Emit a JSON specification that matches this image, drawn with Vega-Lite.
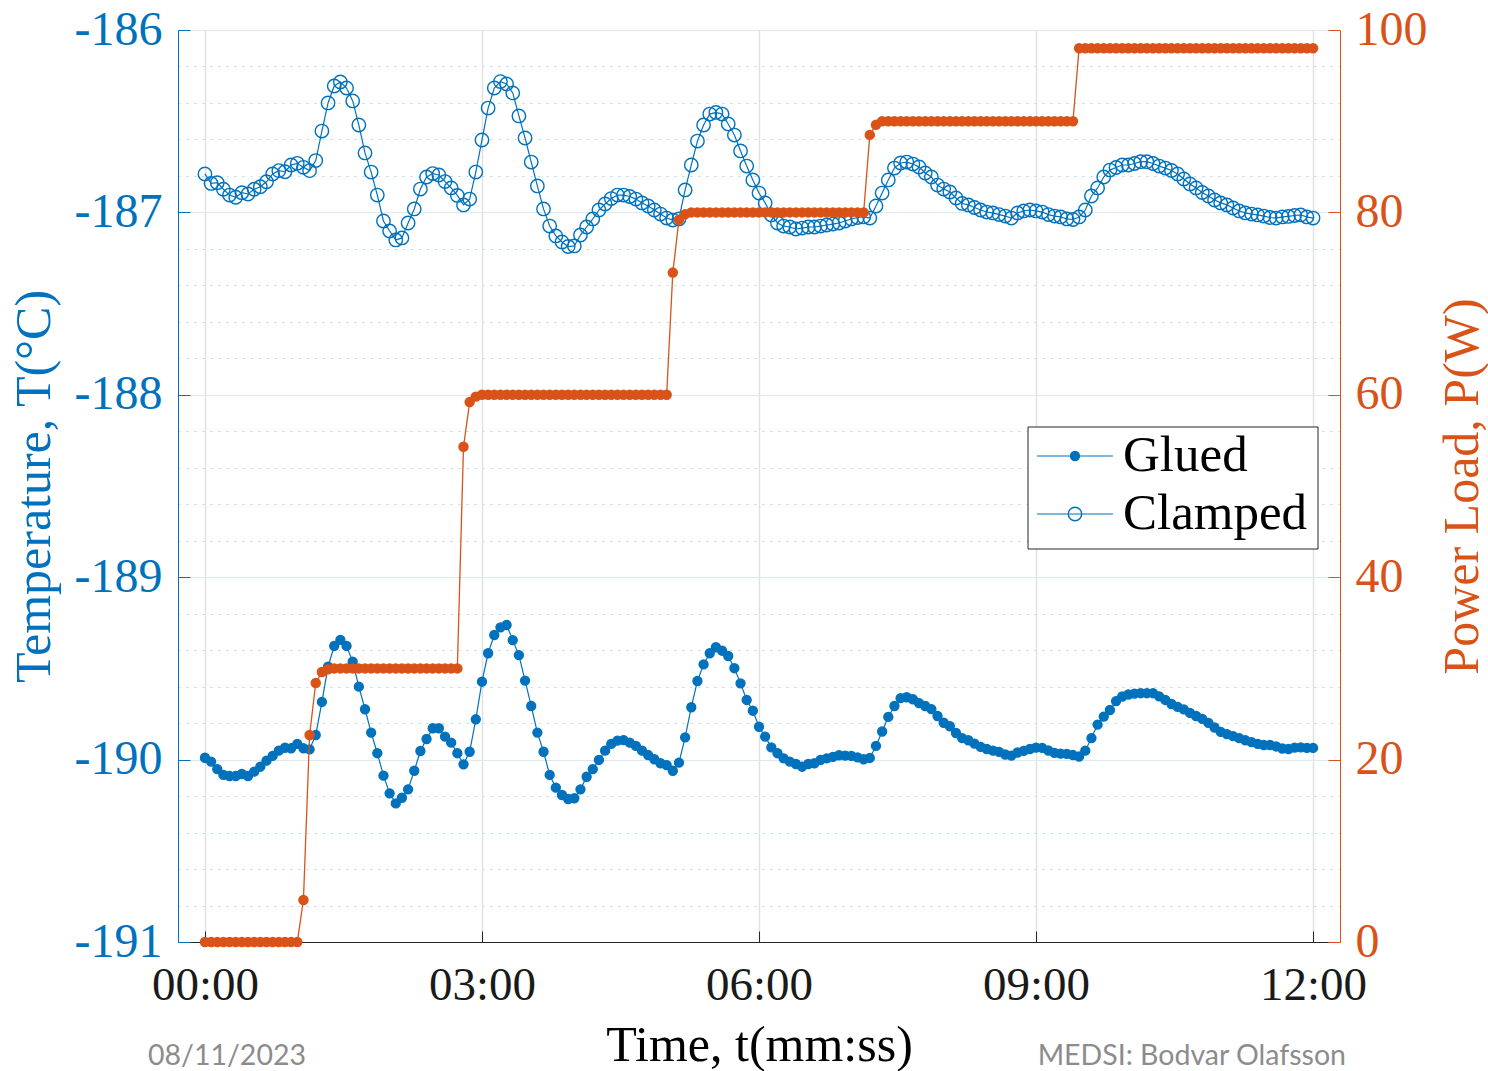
{
"$schema":"https://vega.github.io/schema/vega-lite/v6.json",
"width":1162,"height":912,
"autosize":{"type":"none"},
"padding":{"left":178,"top":30,"right":148,"bottom":129},
"background":"white",
"config":{"view":{"stroke":null},"font":"Liberation Serif","locale":{"number":{"decimal":".","thousands":",","grouping":[3],"currency":["$",""],"minus":"-"}},"axis":{"labelFont":"Liberation Serif","titleFont":"Liberation Serif","labelFlush":false,"labelOverlap":false,"titleFontWeight":"normal"}},
"data":{"values":[
{"t":0,"Glued":-189.990,"Clamped":-186.789,"P":0},
{"t":4000,"Glued":-190.011,"Clamped":-186.841,"P":0},
{"t":8000,"Glued":-190.052,"Clamped":-186.837,"P":0},
{"t":12000,"Glued":-190.084,"Clamped":-186.873,"P":0},
{"t":16000,"Glued":-190.090,"Clamped":-186.905,"P":0},
{"t":20000,"Glued":-190.090,"Clamped":-186.917,"P":0},
{"t":24000,"Glued":-190.079,"Clamped":-186.892,"P":0},
{"t":28000,"Glued":-190.090,"Clamped":-186.899,"P":0},
{"t":32000,"Glued":-190.066,"Clamped":-186.873,"P":0},
{"t":36000,"Glued":-190.039,"Clamped":-186.859,"P":0},
{"t":40000,"Glued":-190.006,"Clamped":-186.832,"P":0},
{"t":44000,"Glued":-189.980,"Clamped":-186.789,"P":0},
{"t":48000,"Glued":-189.951,"Clamped":-186.771,"P":0},
{"t":52000,"Glued":-189.935,"Clamped":-186.777,"P":0},
{"t":56000,"Glued":-189.938,"Clamped":-186.740,"P":0},
{"t":60000,"Glued":-189.914,"Clamped":-186.731,"P":0},
{"t":64000,"Glued":-189.938,"Clamped":-186.753,"P":4.6},
{"t":68000,"Glued":-189.944,"Clamped":-186.771,"P":22.7},
{"t":72000,"Glued":-189.865,"Clamped":-186.716,"P":28.4},
{"t":76000,"Glued":-189.684,"Clamped":-186.554,"P":29.6},
{"t":80000,"Glued":-189.491,"Clamped":-186.400,"P":29.9},
{"t":84000,"Glued":-189.377,"Clamped":-186.307,"P":30},
{"t":88000,"Glued":-189.344,"Clamped":-186.285,"P":30},
{"t":92000,"Glued":-189.377,"Clamped":-186.318,"P":30},
{"t":96000,"Glued":-189.463,"Clamped":-186.389,"P":30},
{"t":100000,"Glued":-189.600,"Clamped":-186.521,"P":30},
{"t":104000,"Glued":-189.724,"Clamped":-186.674,"P":30},
{"t":108000,"Glued":-189.852,"Clamped":-186.779,"P":30},
{"t":112000,"Glued":-189.965,"Clamped":-186.905,"P":30},
{"t":116000,"Glued":-190.088,"Clamped":-187.047,"P":30},
{"t":120000,"Glued":-190.185,"Clamped":-187.102,"P":30},
{"t":124000,"Glued":-190.240,"Clamped":-187.151,"P":30},
{"t":128000,"Glued":-190.209,"Clamped":-187.140,"P":30},
{"t":132000,"Glued":-190.163,"Clamped":-187.058,"P":30},
{"t":136000,"Glued":-190.061,"Clamped":-186.981,"P":30},
{"t":140000,"Glued":-189.953,"Clamped":-186.872,"P":30},
{"t":144000,"Glued":-189.887,"Clamped":-186.806,"P":30},
{"t":148000,"Glued":-189.828,"Clamped":-186.787,"P":30},
{"t":152000,"Glued":-189.828,"Clamped":-186.795,"P":30},
{"t":156000,"Glued":-189.874,"Clamped":-186.831,"P":30},
{"t":160000,"Glued":-189.907,"Clamped":-186.866,"P":30},
{"t":164000,"Glued":-189.965,"Clamped":-186.907,"P":30},
{"t":168000,"Glued":-190.026,"Clamped":-186.959,"P":54.3},
{"t":172000,"Glued":-189.957,"Clamped":-186.927,"P":59.2},
{"t":176000,"Glued":-189.779,"Clamped":-186.779,"P":59.8},
{"t":180000,"Glued":-189.573,"Clamped":-186.603,"P":60},
{"t":184000,"Glued":-189.417,"Clamped":-186.428,"P":60},
{"t":188000,"Glued":-189.317,"Clamped":-186.318,"P":60},
{"t":192000,"Glued":-189.275,"Clamped":-186.283,"P":60},
{"t":196000,"Glued":-189.262,"Clamped":-186.296,"P":60},
{"t":200000,"Glued":-189.345,"Clamped":-186.345,"P":60},
{"t":204000,"Glued":-189.427,"Clamped":-186.471,"P":60},
{"t":208000,"Glued":-189.567,"Clamped":-186.592,"P":60},
{"t":212000,"Glued":-189.706,"Clamped":-186.724,"P":60},
{"t":216000,"Glued":-189.852,"Clamped":-186.855,"P":60},
{"t":220000,"Glued":-189.957,"Clamped":-186.981,"P":60},
{"t":224000,"Glued":-190.084,"Clamped":-187.075,"P":60},
{"t":228000,"Glued":-190.154,"Clamped":-187.129,"P":60},
{"t":232000,"Glued":-190.194,"Clamped":-187.162,"P":60},
{"t":236000,"Glued":-190.216,"Clamped":-187.187,"P":60},
{"t":240000,"Glued":-190.212,"Clamped":-187.184,"P":60},
{"t":244000,"Glued":-190.163,"Clamped":-187.124,"P":60},
{"t":248000,"Glued":-190.094,"Clamped":-187.080,"P":60},
{"t":252000,"Glued":-190.052,"Clamped":-187.036,"P":60},
{"t":256000,"Glued":-190.002,"Clamped":-186.987,"P":60},
{"t":260000,"Glued":-189.951,"Clamped":-186.954,"P":60},
{"t":264000,"Glued":-189.914,"Clamped":-186.924,"P":60},
{"t":268000,"Glued":-189.896,"Clamped":-186.905,"P":60},
{"t":272000,"Glued":-189.893,"Clamped":-186.905,"P":60},
{"t":276000,"Glued":-189.907,"Clamped":-186.913,"P":60},
{"t":280000,"Glued":-189.925,"Clamped":-186.927,"P":60},
{"t":284000,"Glued":-189.951,"Clamped":-186.948,"P":60},
{"t":288000,"Glued":-189.975,"Clamped":-186.965,"P":60},
{"t":292000,"Glued":-189.998,"Clamped":-186.987,"P":60},
{"t":296000,"Glued":-190.020,"Clamped":-187.009,"P":60},
{"t":300000,"Glued":-190.030,"Clamped":-187.031,"P":60},
{"t":304000,"Glued":-190.061,"Clamped":-187.042,"P":73.4},
{"t":308000,"Glued":-190.017,"Clamped":-187.036,"P":79.2},
{"t":312000,"Glued":-189.878,"Clamped":-186.877,"P":79.8},
{"t":316000,"Glued":-189.713,"Clamped":-186.740,"P":80},
{"t":320000,"Glued":-189.569,"Clamped":-186.609,"P":80},
{"t":324000,"Glued":-189.478,"Clamped":-186.521,"P":80},
{"t":328000,"Glued":-189.417,"Clamped":-186.461,"P":80},
{"t":332000,"Glued":-189.384,"Clamped":-186.452,"P":80},
{"t":336000,"Glued":-189.403,"Clamped":-186.461,"P":80},
{"t":340000,"Glued":-189.432,"Clamped":-186.515,"P":80},
{"t":344000,"Glued":-189.499,"Clamped":-186.576,"P":80},
{"t":348000,"Glued":-189.582,"Clamped":-186.663,"P":80},
{"t":352000,"Glued":-189.673,"Clamped":-186.746,"P":80},
{"t":356000,"Glued":-189.732,"Clamped":-186.822,"P":80},
{"t":360000,"Glued":-189.820,"Clamped":-186.894,"P":80},
{"t":364000,"Glued":-189.874,"Clamped":-186.948,"P":80},
{"t":368000,"Glued":-189.933,"Clamped":-187.014,"P":80},
{"t":372000,"Glued":-189.965,"Clamped":-187.058,"P":80},
{"t":376000,"Glued":-189.993,"Clamped":-187.075,"P":80},
{"t":380000,"Glued":-190.011,"Clamped":-187.080,"P":80},
{"t":384000,"Glued":-190.024,"Clamped":-187.091,"P":80},
{"t":388000,"Glued":-190.039,"Clamped":-187.086,"P":80},
{"t":392000,"Glued":-190.024,"Clamped":-187.080,"P":80},
{"t":396000,"Glued":-190.020,"Clamped":-187.080,"P":80},
{"t":400000,"Glued":-190.002,"Clamped":-187.075,"P":80},
{"t":404000,"Glued":-189.993,"Clamped":-187.069,"P":80},
{"t":408000,"Glued":-189.985,"Clamped":-187.064,"P":80},
{"t":412000,"Glued":-189.976,"Clamped":-187.058,"P":80},
{"t":416000,"Glued":-189.978,"Clamped":-187.047,"P":80},
{"t":420000,"Glued":-189.980,"Clamped":-187.036,"P":80},
{"t":424000,"Glued":-189.988,"Clamped":-187.028,"P":80},
{"t":428000,"Glued":-189.998,"Clamped":-187.025,"P":80},
{"t":432000,"Glued":-189.991,"Clamped":-187.031,"P":88.5},
{"t":436000,"Glued":-189.925,"Clamped":-186.965,"P":89.6},
{"t":440000,"Glued":-189.846,"Clamped":-186.894,"P":90},
{"t":444000,"Glued":-189.766,"Clamped":-186.822,"P":90},
{"t":448000,"Glued":-189.706,"Clamped":-186.757,"P":90},
{"t":452000,"Glued":-189.663,"Clamped":-186.729,"P":90},
{"t":456000,"Glued":-189.658,"Clamped":-186.724,"P":90},
{"t":460000,"Glued":-189.669,"Clamped":-186.735,"P":90},
{"t":464000,"Glued":-189.690,"Clamped":-186.751,"P":90},
{"t":468000,"Glued":-189.706,"Clamped":-186.784,"P":90},
{"t":472000,"Glued":-189.723,"Clamped":-186.806,"P":90},
{"t":476000,"Glued":-189.761,"Clamped":-186.850,"P":90},
{"t":480000,"Glued":-189.798,"Clamped":-186.872,"P":90},
{"t":484000,"Glued":-189.817,"Clamped":-186.888,"P":90},
{"t":488000,"Glued":-189.854,"Clamped":-186.921,"P":90},
{"t":492000,"Glued":-189.882,"Clamped":-186.951,"P":90},
{"t":496000,"Glued":-189.894,"Clamped":-186.959,"P":90},
{"t":500000,"Glued":-189.912,"Clamped":-186.973,"P":90},
{"t":504000,"Glued":-189.930,"Clamped":-186.987,"P":90},
{"t":508000,"Glued":-189.942,"Clamped":-186.998,"P":90},
{"t":512000,"Glued":-189.951,"Clamped":-187.003,"P":90},
{"t":516000,"Glued":-189.958,"Clamped":-187.012,"P":90},
{"t":520000,"Glued":-189.972,"Clamped":-187.020,"P":90},
{"t":524000,"Glued":-189.978,"Clamped":-187.031,"P":90},
{"t":528000,"Glued":-189.961,"Clamped":-187.003,"P":90},
{"t":532000,"Glued":-189.952,"Clamped":-186.992,"P":90},
{"t":536000,"Glued":-189.942,"Clamped":-186.987,"P":90},
{"t":540000,"Glued":-189.934,"Clamped":-186.992,"P":90},
{"t":544000,"Glued":-189.936,"Clamped":-186.998,"P":90},
{"t":548000,"Glued":-189.950,"Clamped":-187.012,"P":90},
{"t":552000,"Glued":-189.963,"Clamped":-187.020,"P":90},
{"t":556000,"Glued":-189.967,"Clamped":-187.025,"P":90},
{"t":560000,"Glued":-189.969,"Clamped":-187.036,"P":90},
{"t":564000,"Glued":-189.975,"Clamped":-187.039,"P":90},
{"t":568000,"Glued":-189.983,"Clamped":-187.025,"P":98},
{"t":572000,"Glued":-189.951,"Clamped":-186.987,"P":98},
{"t":576000,"Glued":-189.882,"Clamped":-186.910,"P":98},
{"t":580000,"Glued":-189.808,"Clamped":-186.866,"P":98},
{"t":584000,"Glued":-189.764,"Clamped":-186.806,"P":98},
{"t":588000,"Glued":-189.728,"Clamped":-186.768,"P":98},
{"t":592000,"Glued":-189.679,"Clamped":-186.754,"P":98},
{"t":596000,"Glued":-189.654,"Clamped":-186.740,"P":98},
{"t":600000,"Glued":-189.643,"Clamped":-186.740,"P":98},
{"t":604000,"Glued":-189.638,"Clamped":-186.732,"P":98},
{"t":608000,"Glued":-189.636,"Clamped":-186.722,"P":98},
{"t":612000,"Glued":-189.636,"Clamped":-186.722,"P":98},
{"t":616000,"Glued":-189.636,"Clamped":-186.732,"P":98},
{"t":620000,"Glued":-189.653,"Clamped":-186.746,"P":98},
{"t":624000,"Glued":-189.673,"Clamped":-186.757,"P":98},
{"t":628000,"Glued":-189.695,"Clamped":-186.770,"P":98},
{"t":632000,"Glued":-189.711,"Clamped":-186.789,"P":98},
{"t":636000,"Glued":-189.725,"Clamped":-186.817,"P":98},
{"t":640000,"Glued":-189.744,"Clamped":-186.844,"P":98},
{"t":644000,"Glued":-189.761,"Clamped":-186.866,"P":98},
{"t":648000,"Glued":-189.777,"Clamped":-186.891,"P":98},
{"t":652000,"Glued":-189.799,"Clamped":-186.910,"P":98},
{"t":656000,"Glued":-189.824,"Clamped":-186.932,"P":98},
{"t":660000,"Glued":-189.848,"Clamped":-186.948,"P":98},
{"t":664000,"Glued":-189.860,"Clamped":-186.959,"P":98},
{"t":668000,"Glued":-189.871,"Clamped":-186.976,"P":98},
{"t":672000,"Glued":-189.882,"Clamped":-186.992,"P":98},
{"t":676000,"Glued":-189.894,"Clamped":-187.003,"P":98},
{"t":680000,"Glued":-189.904,"Clamped":-187.009,"P":98},
{"t":684000,"Glued":-189.914,"Clamped":-187.014,"P":98},
{"t":688000,"Glued":-189.920,"Clamped":-187.020,"P":98},
{"t":692000,"Glued":-189.920,"Clamped":-187.028,"P":98},
{"t":696000,"Glued":-189.928,"Clamped":-187.031,"P":98},
{"t":700000,"Glued":-189.939,"Clamped":-187.025,"P":98},
{"t":704000,"Glued":-189.942,"Clamped":-187.022,"P":98},
{"t":708000,"Glued":-189.934,"Clamped":-187.017,"P":98},
{"t":712000,"Glued":-189.933,"Clamped":-187.014,"P":98},
{"t":716000,"Glued":-189.936,"Clamped":-187.025,"P":98},
{"t":720000,"Glued":-189.936,"Clamped":-187.031,"P":98}
]},
"layer":[
{"transform":[{"fold":["Glued","Clamped"],"as":["series","T"]}],
"mark":{"type":"line","color":"#0072BD","strokeWidth":1.2},
"encoding":{
"x":{"field":"t","type":"temporal","scale":{"type":"utc","domain":[-17500,737500],"nice":false},
"axis":{"values":[0,180000,360000,540000,720000],"format":"%M:%S","title":"Time, t(mm:ss)","grid":true,"gridColor":"#e1e1e1","gridWidth":1.5,"tickSize":-11,"tickColor":"#262626","domainColor":"#262626","labelColor":"#1a1a1a","labelFontSize":47,"labelPadding":31,"titleFontSize":50,"titleColor":"#000000","titlePadding":12}},
"y":{"field":"T","type":"quantitative","scale":{"domain":[-191,-186],"nice":false,"zero":false},
"axis":{"orient":"left","values":[-191,-190,-189,-188,-187,-186],
"grid":true,"gridColor":"#dde8f2","gridWidth":1,
"tickSize":-12,"tickColor":"#0072BD","domainColor":"#0072BD","labelColor":"#0072BD","labelFontSize":48,"labelPadding":28,
"title":"Temperature, T(°C)","titleColor":"#0072BD","titleFontSize":50,"titlePadding":15}},
"detail":{"field":"series"}}},
{"transform":[{"fold":["Glued","Clamped"],"as":["series","T"]}],
"mark":{"type":"point","filled":true,"stroke":"#0072BD","strokeWidth":1.4,"opacity":1},
"encoding":{
"x":{"field":"t","type":"temporal","axis":null},
"y":{"field":"T","type":"quantitative","scale":{"domain":[-191,-186],"nice":false,"zero":false},
"axis":{"orient":"left","values":[-190.8,-190.6,-190.4,-190.2,-189.8,-189.6,-189.4,-189.2,-188.8,-188.6,-188.4,-188.2,-187.8,-187.6,-187.4,-187.2,-186.8,-186.6,-186.4,-186.2],"grid":true,"gridColor":"#bcd7ec","gridDash":[2,6],"gridWidth":1,"labels":false,"ticks":false,"domain":false,"title":null}},
"fill":{"field":"series","type":"nominal","scale":{"domain":["Glued","Clamped"],"range":["#0072BD","transparent"]},"legend":null},
"size":{"field":"series","type":"nominal","scale":{"domain":["Glued","Clamped"],"range":[80,180]},"legend":null}}},
{"mark":{"type":"line","color":"#D95319","strokeWidth":1.3},
"encoding":{
"x":{"field":"t","type":"temporal","axis":null},
"y":{"field":"P","type":"quantitative","scale":{"domain":[0,100],"nice":false,"zero":false},
"axis":{"orient":"right","values":[0,20,40,60,80,100],"grid":false,"tickSize":-12,"tickColor":"#D95319","domainColor":"#D95319","labelColor":"#D95319","labelFontSize":48,"labelPadding":27,"title":"Power Load, P(W)","titleColor":"#D95319","titleFontSize":50,"titleAngle":270,"titleBaseline":"top","titlePadding":10}}}},
{"mark":{"type":"circle","color":"#D95319","size":110,"opacity":1},
"encoding":{
"x":{"field":"t","type":"temporal","axis":null},
"y":{"field":"P","type":"quantitative","scale":{"domain":[0,100],"nice":false,"zero":false},"axis":null}}},
{"data":{"values":[{"note":"08/11/2023"}]},
"mark":{"type":"text","align":"left","baseline":"alphabetic","font":"Lato","fontSize":28.5,"color":"#8c8c8c"},
"encoding":{"x":{"datum":-37000,"type":"temporal","axis":null},"y":{"datum":-191.675,"type":"quantitative","scale":{"domain":[-191,-186],"nice":false,"zero":false},"axis":null},"text":{"field":"note"}}},
{"data":{"values":[{"note":"MEDSI: Bodvar Olafsson"}]},
"mark":{"type":"text","align":"right","baseline":"alphabetic","font":"Lato","fontSize":28.5,"color":"#8c8c8c"},
"encoding":{"x":{"datum":741400,"type":"temporal","axis":null},"y":{"datum":-191.675,"type":"quantitative","scale":{"domain":[-191,-186],"nice":false,"zero":false},"axis":null},"text":{"field":"note"}}},
{"data":{"values":[{"box":"legend"}]},
"mark":{"type":"rect","fill":"#ffffff","stroke":"#262626","strokeWidth":1},
"encoding":{"x":{"datum":534800,"type":"temporal","axis":null},"x2":{"datum":723200},"y":{"datum":-188.1765,"type":"quantitative","scale":{"domain":[-191,-186],"nice":false,"zero":false},"axis":null},"y2":{"datum":-188.8454}}},
{"data":{"values":[{"series":"Glued"}]},
"mark":{"type":"rule","color":"#0072BD","strokeWidth":1.2},
"encoding":{"x":{"datum":540600,"type":"temporal","axis":null},"x2":{"datum":590000},"y":{"datum":-188.3355,"type":"quantitative","scale":{"domain":[-191,-186],"nice":false,"zero":false},"axis":null}}},
{"data":{"values":[{"series":"Clamped"}]},
"mark":{"type":"rule","color":"#0072BD","strokeWidth":1.2},
"encoding":{"x":{"datum":540600,"type":"temporal","axis":null},"x2":{"datum":590000},"y":{"datum":-188.6535,"type":"quantitative","scale":{"domain":[-191,-186],"nice":false,"zero":false},"axis":null}}},
{"data":{"values":[{"series":"Glued"}]},
"mark":{"type":"point","filled":true,"color":"#0072BD","stroke":"#0072BD","strokeWidth":1.4,"size":80,"opacity":1},
"encoding":{"x":{"datum":565300,"type":"temporal","axis":null},"y":{"datum":-188.3355,"type":"quantitative","scale":{"domain":[-191,-186],"nice":false,"zero":false},"axis":null}}},
{"data":{"values":[{"series":"Clamped"}]},
"mark":{"type":"point","filled":false,"color":"#0072BD","strokeWidth":1.4,"size":180,"opacity":1},
"encoding":{"x":{"datum":565300,"type":"temporal","axis":null},"y":{"datum":-188.6535,"type":"quantitative","scale":{"domain":[-191,-186],"nice":false,"zero":false},"axis":null}}},
{"data":{"values":[{"series":"Glued"}]},
"mark":{"type":"text","align":"left","baseline":"middle","font":"Liberation Serif","fontSize":51,"color":"#000000"},
"encoding":{"x":{"datum":596500,"type":"temporal","axis":null},"y":{"datum":-188.3355,"type":"quantitative","scale":{"domain":[-191,-186],"nice":false,"zero":false},"axis":null},"text":{"field":"series"}}},
{"data":{"values":[{"series":"Clamped"}]},
"mark":{"type":"text","align":"left","baseline":"middle","font":"Liberation Serif","fontSize":51,"color":"#000000"},
"encoding":{"x":{"datum":596500,"type":"temporal","axis":null},"y":{"datum":-188.6535,"type":"quantitative","scale":{"domain":[-191,-186],"nice":false,"zero":false},"axis":null},"text":{"field":"series"}}}
],
"resolve":{"scale":{"y":"independent"},"axis":{"x":"independent"}}
}
